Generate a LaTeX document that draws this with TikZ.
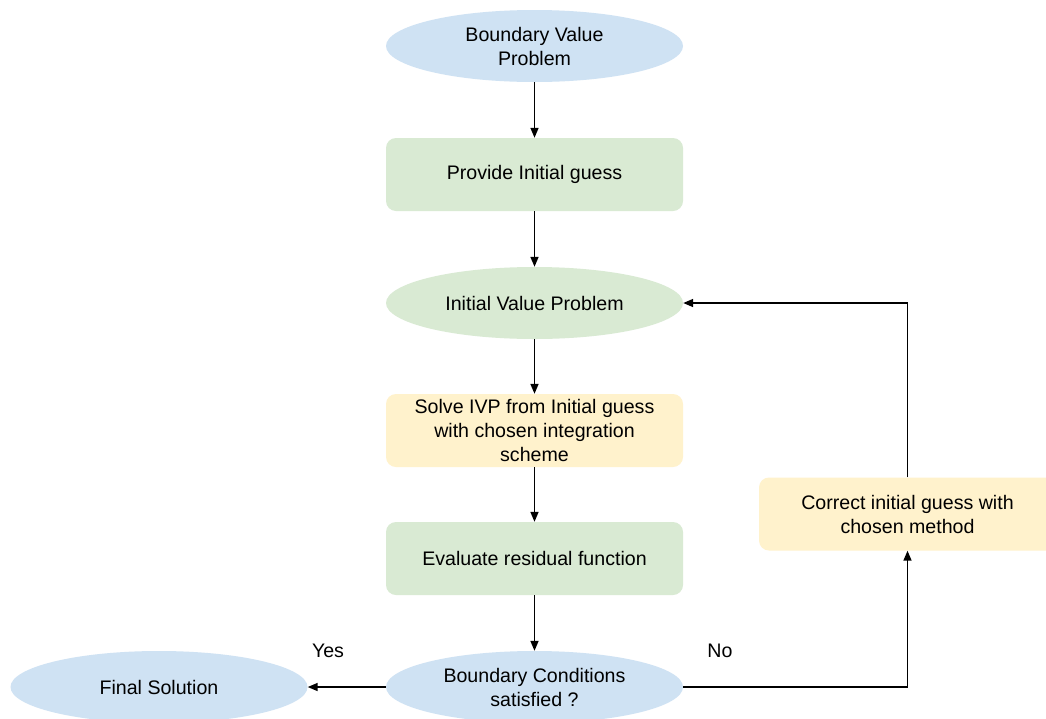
\documentclass[tikz,border=0pt]{standalone}
\usepackage{fontspec}
\setmainfont{Liberation Sans}
\usetikzlibrary{shapes.geometric,arrows.meta}
\definecolor{cblue}{HTML}{CFE2F3}
\definecolor{cgreen}{HTML}{D9EAD3}
\definecolor{cyellow}{HTML}{FFF2CC}
\tikzset{
  every node/.style={font=\fontsize{19.6}{24}\selectfont, align=center, inner sep=0pt},
  oval/.style={ellipse, fill=cblue, minimum width=297pt, minimum height=72pt},
  greenoval/.style={oval, fill=cgreen},
  greenbox/.style={rectangle, rounded corners=10pt, fill=cgreen, minimum width=297pt, minimum height=73pt},
  yellowbox/.style={greenbox, fill=cyellow},
  conn/.style={line width=1.6pt, -{Triangle[length=10pt,width=8pt]}},
}
\begin{document}
\begin{tikzpicture}[x=1pt,y=-1pt]
\clip (0,0) rectangle (1046,718);
\fill[white] (0,0) rectangle (1046,718);
\node[oval] (bvp) at (534.5,46) {Boundary Value\\Problem};
\node[greenbox] (guess) at (534.5,174.5) {Provide Initial guess};
\node[greenoval] (ivp) at (534.5,303) {Initial Value Problem};
\node[yellowbox] (solve) at (534.5,430.5) {Solve IVP from Initial guess\\with chosen integration\\scheme};
\node[greenbox] (eval) at (534.5,558.5) {Evaluate residual function};
\node[oval] (bc) at (534.5,687) {Boundary Conditions\\satisfied ?};
\node[oval] (final) at (159,687) {Final Solution};
\node[yellowbox] (corr) at (907.5,514) {Correct initial guess with\\chosen method};
\node (yes) at (328,651) {Yes};
\node (no) at (720,651) {No};
\draw[conn] (bvp) -- (guess);
\draw[conn] (guess) -- (ivp);
\draw[conn] (ivp) -- (solve);
\draw[conn] (solve) -- (eval);
\draw[conn] (eval) -- (bc);
\draw[conn] (bc) -- (final);
\draw[conn] (bc.east) -| (corr.south);
\draw[conn] (corr.north) |- (ivp.east);
\end{tikzpicture}
\end{document}
